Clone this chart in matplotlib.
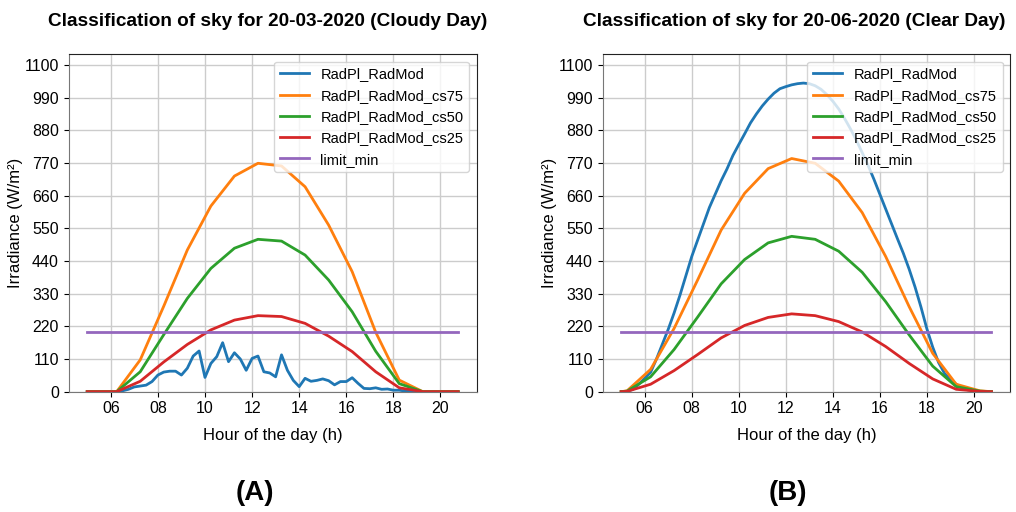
import numpy as np
import matplotlib
matplotlib.use("Agg")
import matplotlib.pyplot as plt
from matplotlib.ticker import FuncFormatter

plt.rcParams['font.family'] = ['Liberation Sans', 'DejaVu Sans']

# 15-minute measurement times (hours) and hourly model knots
t_meas = np.arange(5.0, 21.0, 0.25)
t_model = [5.0, 5.25, 6.25, 7.25, 8.25, 9.25, 10.25, 11.25, 12.25,
           13.25, 14.25, 15.25, 16.25, 17.25, 18.25, 19.25, 20.25, 20.75]
limit_min = 200

# 20-03-2020 (cloudy)
cloudy_rad = [0, 0, 0, 0, 0, 0, 3, 8,
              16, 19, 22, 34, 56, 66, 69, 69,
              56, 79, 120, 137, 48, 95, 118, 165,
              101, 131, 110, 72, 112, 120, 67, 63,
              50, 124, 72, 38, 17, 45, 35, 38,
              43, 37, 23, 34, 34, 47, 28, 11,
              10, 13, 8, 9, 5, 5, 2, 1,
              0, 0, 0, 0, 0, 0, 0, 0]
cloudy_cs75 = [0, 0, 0, 107, 288, 477, 625, 726, 769, 760, 690, 561, 404, 200, 39, 0, 0, 0]
cloudy_cs50 = [0, 0, 0, 67, 192, 314, 415, 483, 513, 507, 460, 376, 269, 136, 27, 0, 0, 0]
cloudy_cs25 = [0, 0, 0, 35, 100, 159, 208, 241, 256, 253, 230, 187, 135, 67, 13, 0, 0, 0]

# 20-06-2020 (clear)
clear_rad = [0, 1, 8, 25, 45, 65, 110, 160,
             210, 265, 325, 390, 455, 510, 565, 620,
             665, 710, 750, 795, 832, 868, 905, 935,
             962, 985, 1005, 1020, 1027, 1033, 1037, 1039,
             1037, 1030, 1018, 1000, 978, 952, 920, 885,
             847, 805, 762, 715, 665, 615, 565, 515,
             466, 412, 352, 285, 212, 150, 98, 62,
             40, 25, 13, 6, 3, 1, 0, 0]
clear_cs75 = [0, 3, 75, 213, 376, 544, 668, 751, 785, 769, 709, 603, 455, 286, 129, 25, 3, 0]
clear_cs50 = [0, 2, 50, 142, 251, 363, 445, 501, 523, 513, 473, 402, 303, 191, 86, 17, 2, 0]
clear_cs25 = [0, 1, 25, 71, 125, 181, 223, 250, 262, 256, 236, 201, 152, 95, 43, 8, 1, 0]

titles = ["Classification of sky for 20-03-2020 (Cloudy Day)",
          "Classification of sky for 20-06-2020 (Clear Day)"]
panel_tags = ["(A)", "(B)"]

fig = plt.figure(figsize=(10.16, 5.12), dpi=100)
ax_a = fig.add_axes([0.0676, 0.235, 0.4016, 0.659])
ax_b = fig.add_axes([0.5932, 0.235, 0.4009, 0.659])

days = [(ax_a, cloudy_rad, cloudy_cs75, cloudy_cs50, cloudy_cs25, 0.487, 0.251),
        (ax_b, clear_rad, clear_cs75, clear_cs50, clear_cs25, 0.470, 0.775)]

for i, (ax, rad, cs75, cs50, cs25, title_x, tag_x) in enumerate(days):
    ax.plot(t_meas, rad, color='tab:blue', lw=2, label='RadPl_RadMod')
    ax.plot(t_model, cs75, color='tab:orange', lw=2, label='RadPl_RadMod_cs75')
    ax.plot(t_model, cs50, color='tab:green', lw=2, label='RadPl_RadMod_cs50')
    ax.plot(t_model, cs25, color='tab:red', lw=2, label='RadPl_RadMod_cs25')
    ax.plot(t_meas, [limit_min] * len(t_meas), color='tab:purple', lw=2, label='limit_min')

    ax.set_ylim(0, 1136)
    ax.set_yticks(np.arange(0, 1101, 110))
    ax.set_xticks(np.arange(6, 21, 2))
    ax.xaxis.set_major_formatter(FuncFormatter(lambda v, p: f"{int(v):02d}"))
    ax.tick_params(labelsize=11.5)
    ax.grid(True, color='#cccccc', lw=1)
    ax.set_axisbelow(True)
    for side in ['left', 'bottom']:
        ax.spines[side].set_color('#777777')
    for side in ['top', 'right']:
        ax.spines[side].set_color('#222222')

    ax.set_xlabel("Hour of the day (h)", fontsize=12, labelpad=8)
    ax.set_ylabel("Irradiance (W/m²)", fontsize=12, labelpad=1)
    ax.set_title(titles[i], fontsize=13.7, fontweight='bold', pad=20, x=title_x)
    ax.legend(loc='upper right', fontsize=10.5)

    fig.text(tag_x, 0.037, panel_tags[i], ha='center', va='center',
             fontsize=20, fontweight='bold')

fig.savefig("out.png", dpi=100)
